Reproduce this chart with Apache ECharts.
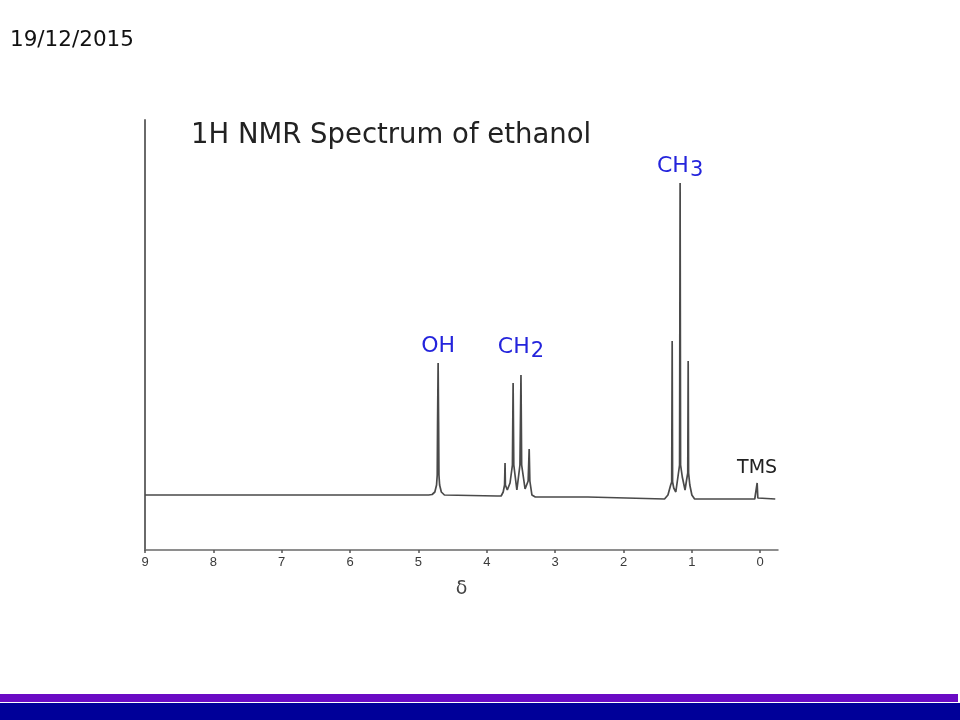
<!DOCTYPE html>
<html>
<head>
<meta charset="utf-8">
<script src="https://cdn.jsdelivr.net/npm/echarts@6/dist/echarts.min.js"></script>
<style>
html,body{margin:0;padding:0;background:#fff;}
#c{width:960px;height:720px;}
</style>
</head>
<body>
<div id="c"></div>
<script>
// chemical shift (ppm) and intensity (baseline = 0)
const spectrum = [
  [9.00, 0], [7.89, 0], [7.865, 2], [7.84, 0],
  [4.85, 0], [4.80, 0.5], [4.76, 3], [4.735, 10], [4.725, 20], [4.72, 73], [4.712, 132],
  [4.705, 73], [4.70, 20], [4.69, 10], [4.665, 3], [4.62, 0],
  [3.85, -1], [3.79, -1], [3.76, 3], [3.74, 10], [3.733, 32], [3.728, 10], [3.70, 5],
  [3.66, 12], [3.625, 30], [3.615, 112], [3.605, 30], [3.56, 5], [3.515, 30], [3.50, 120],
  [3.49, 30], [3.44, 6], [3.395, 14], [3.38, 46], [3.37, 14], [3.34, 0], [3.29, -2],
  [2.52, -2], [2.50, -4],
  [1.40, -4], [1.35, 0], [1.31, 10], [1.295, 13], [1.288, 154], [1.282, 13], [1.265, 7],
  [1.235, 3], [1.20, 20], [1.18, 30], [1.172, 312], [1.165, 30], [1.14, 18], [1.10, 5],
  [1.075, 16], [1.06, 22], [1.054, 134], [1.048, 22], [1.03, 10], [1.00, 0], [0.96, -4],
  [0.08, -4], [0.055, -3], [0.045, 12], [0.035, -3], [0.01, -4], [-0.22, -4]
];
const tickValues = [0, 1, 2, 3, 4, 5, 6, 7, 8, 9];
const peakLabels = [
  { name: 'OH', coord: [4.712, 132], text: '{a|OH}', dist: 2 },
  { name: 'CH2', coord: [3.50, 120], text: '{a|CH}{b|2}', dist: 13 },
  { name: 'CH3', coord: [1.172, 312], text: '{a|CH}{b|3}', dist: 2 },
  { name: 'TMS', coord: [0.045, 12], text: '{t|TMS}', dist: 5 }
];
const titleText = '1H NMR Spectrum of ethanol';
const dateText = '19/12/2015';
const axisName = 'δ';

const chart = echarts.init(document.getElementById('c'));
const font = 'DejaVu Sans, Verdana, sans-serif';
const blue = '#2424dc';
const richStyles = {
  a: { fontFamily: font, fontSize: 22, color: blue, lineHeight: 26, verticalAlign: 'top' },
  b: { fontFamily: font, fontSize: 21, color: blue, lineHeight: 26, verticalAlign: 'bottom', padding: [0, 0, 0, 1] },
  t: { fontFamily: font, fontSize: 19, color: '#222' }
};
chart.setOption({
  animation: false,
  backgroundColor: '#ffffff',
  title: {
    text: titleText,
    left: 186, top: 117,
    textStyle: { fontFamily: font, fontSize: 27.5, fontWeight: 'normal', color: '#222' }
  },
  grid: { left: 145, right: 182, top: 120, bottom: 170 },
  xAxis: {
    type: 'value', inverse: true, min: -0.26, max: 9,
    name: axisName, nameLocation: 'middle', nameGap: 30,
    nameTextStyle: { fontFamily: font, fontSize: 19, color: '#444' },
    axisLine: { show: true, onZero: false, lineStyle: { color: '#6a6a6a', width: 1.5 } },
    axisTick: { show: true, customValues: tickValues, length: 3, lineStyle: { color: '#555', width: 1.5 } },
    axisLabel: { customValues: tickValues, fontFamily: 'Liberation Sans Narrow, Liberation Sans, sans-serif', fontSize: 13, color: '#3a3a3a', margin: 6 },
    splitLine: { show: false }
  },
  yAxis: {
    type: 'value', min: -55, max: 375,
    axisLine: { show: true, onZero: false, lineStyle: { color: '#6a6a6a', width: 2 } },
    axisTick: { show: false }, axisLabel: { show: false }, splitLine: { show: false }
  },
  series: [{
    type: 'line', data: spectrum, showSymbol: false, symbol: 'none',
    lineStyle: { color: '#4a4a4a', width: 1.7 },
    markPoint: {
      symbol: 'circle', symbolSize: 0,
      data: peakLabels.map(p => ({
        name: p.name, coord: p.coord,
        label: { show: true, position: 'top', distance: p.dist, formatter: p.text, rich: richStyles }
      }))
    }
  }],
  graphic: [
    { type: 'text', left: 10, top: 29, style: { text: dateText, fontFamily: font, fontSize: 21.5, fill: '#111' } },
    { type: 'rect', shape: { x: 0, y: 694, width: 958, height: 8 }, style: { fill: '#6a0ac4' } },
    { type: 'rect', shape: { x: 0, y: 703, width: 960, height: 17 }, style: { fill: '#000099' } }
  ]
});
</script>
</body>
</html>
